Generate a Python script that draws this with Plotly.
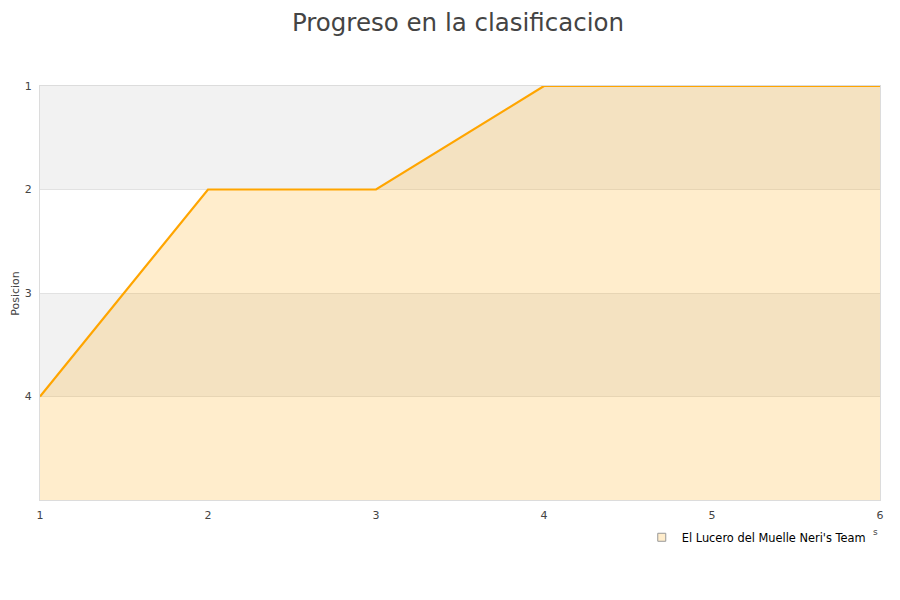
import plotly.graph_objects as go

jornadas = [1, 2, 3, 4, 5, 6]
posiciones = [4, 2, 2, 1, 1, 1]
team = "El Lucero del Muelle Neri's Team"
y_ticks = [1, 2, 3, 4]
y_bottom = 5

fig = go.Figure()

# alternating bands
band_colors = ["#f2f2f2", "#ffffff", "#f2f2f2", "#ffffff"]
for i, c in enumerate(band_colors):
    fig.add_shape(type="rect", xref="paper", yref="y", x0=0, x1=1,
                  y0=y_ticks[i], y1=y_ticks[i] + 1, fillcolor=c,
                  line_width=0, layer="below")

fig.add_trace(go.Scatter(x=jornadas, y=[y_bottom] * len(jornadas), mode="lines",
                         line=dict(width=0, color="rgba(0,0,0,0)"),
                         showlegend=False, hoverinfo="skip"))
fig.add_trace(go.Scatter(x=jornadas, y=posiciones, mode="lines", fill="tonexty",
                         fillcolor="rgba(255,165,0,0.2)",
                         line=dict(color="#ffa500", width=2.2),
                         showlegend=False, cliponaxis=False))
# legend proxy
fig.add_trace(go.Scatter(x=[None], y=[None], mode="markers", name=team,
                         marker=dict(symbol="square", size=8, color="#ffedcc",
                                     line=dict(color="#999", width=1))))

fig.update_layout(
    width=900, height=600,
    paper_bgcolor="white", plot_bgcolor="rgba(0,0,0,0)",
    margin=dict(l=32, r=28, t=78, b=108, autoexpand=False),
    title=dict(text="Progreso en la clasificacion", x=0.5, xanchor="center",
               y=0.991, yanchor="top", automargin=False, pad=dict(t=0, b=0),
               font=dict(family="DejaVu Sans, sans-serif", size=24.5, color="#444")),
    font=dict(family="DejaVu Sans, sans-serif", size=11, color="#444"),
    xaxis=dict(range=[1, 6], tickvals=jornadas, showgrid=False, zeroline=False,
               showline=True, linecolor="#dcdcdc", mirror=True, ticks="",
               ticklabelstandoff=5, automargin=False,
               tickfont=dict(size=11, color="#444")),
    yaxis=dict(range=[y_bottom, 1], tickvals=y_ticks, showgrid=True,
               gridcolor="#e2e2e2", zeroline=False, showline=True,
               linecolor="#dcdcdc", mirror=True, ticks="",
               ticklabelstandoff=5, automargin=False,
               tickfont=dict(size=11, color="#444")),
    showlegend=True,
    legend=dict(orientation="h", x=0.989, xanchor="right", y=-0.055, yanchor="top",
                font=dict(size=11.4, color="#000"), bgcolor="rgba(0,0,0,0)"),
)

fig.add_annotation(text="Posicion", xref="paper", yref="paper", x=-0.03, y=0.5,
                   xanchor="center", yanchor="middle", textangle=-90, showarrow=False,
                   font=dict(size=11, color="#444"))
fig.add_annotation(text="s", xref="paper", yref="paper", x=1.0, y=-0.077,
                   xanchor="right", yanchor="middle", showarrow=False,
                   font=dict(size=9, color="#444"))

fig.write_html("out.html")
